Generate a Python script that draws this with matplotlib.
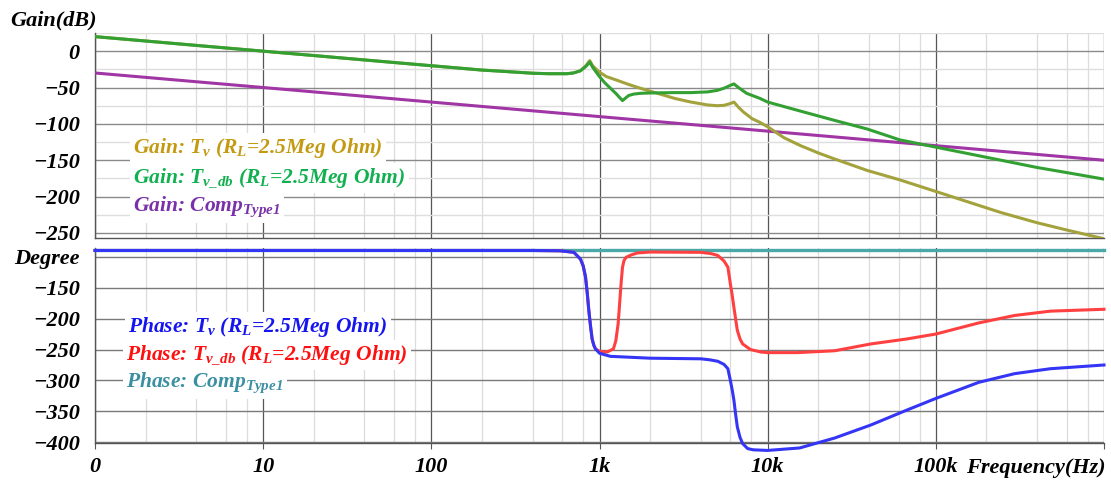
import matplotlib
matplotlib.use('Agg')
import matplotlib.pyplot as plt
from matplotlib.font_manager import FontProperties
from matplotlib.ticker import FixedLocator, NullLocator

# ---------------- data ----------------
freq_tvdb = [1, 2, 5, 10, 20, 50, 100, 150, 200, 257, 300, 405, 500, 640, 700, 770, 830, 875,
             910, 1000, 1080, 1150, 1250, 1320, 1370, 1420, 1490, 1600, 1750, 2000, 2800, 3500,
             4400, 5000, 5500, 6000, 6300, 6700, 7500, 9000, 10000, 15700, 24800, 39000, 61000,
             100000, 244000, 400000, 600000, 1000000]
gain_tvdb = [20, 14, 6, 0, -6, -14, -20, -23.5, -26, -27.5, -28.5, -30.4, -31, -31, -30, -27, -21, -15,
             -22, -35, -44, -50, -58, -64, -68, -65, -61, -59, -58, -57.5, -57, -57,
             -56, -54, -51, -47, -45, -50, -58, -65, -70, -82.5, -95, -107, -122,
             -132, -150, -160, -167, -176]

freq_tv = [1, 2, 5, 10, 20, 50, 100, 150, 200, 257, 300, 405, 500, 640, 700, 770, 830, 875,
           910, 1000, 1100, 1270, 1500, 1750, 2000, 2800, 3500, 4400, 5000, 5500, 6000, 6300,
           6700, 7200, 8100, 9000, 10000, 12500, 15700, 20000, 24800, 39000, 61000, 100000,
           244000, 400000, 600000, 1000000]
gain_tv = [20, 14, 6, 0, -6, -14, -20, -23.5, -26, -27.5, -28.5, -30.4, -31, -31, -30, -27, -20, -13,
           -20, -29, -35, -40, -46, -51, -55, -65, -70, -74, -75, -74.5, -72, -70,
           -77, -84, -93, -98, -104, -119, -130, -140, -148, -164, -177, -193,
           -222, -236, -246, -258]

freq_comp = [1, 10, 100, 1000, 10000, 100000, 1000000]
gain_comp = [-30, -50, -70, -90, -110, -130, -150]

freq_ph_tv = [1, 100, 400, 583, 704, 771, 800, 826, 845, 864, 885, 904, 925, 946, 1000, 1160,
              2000, 4000, 4500, 5050, 5500, 5800, 6000, 6150, 6300, 6450, 6600, 6850, 7100,
              7600, 8200, 10000, 15500, 25000, 41000, 67000, 100000, 180000, 294000, 480000,
              1000000]
phase_tv = [-90, -90, -90, -90.5, -93, -104, -115, -133, -158, -187, -213, -233, -243, -249, -256, -261,
            -264, -265, -266.5, -269, -274, -281, -300, -315, -332, -355, -375, -392, -402,
            -410, -412, -413, -409, -393, -372, -348, -329, -303, -289, -281,
            -275]

freq_ph_tvdb = [1, 100, 400, 583, 704, 771, 800, 826, 845, 864, 885, 904, 925, 946, 1000, 1110,
                1210, 1250, 1290, 1310, 1330, 1350, 1370, 1400, 1440, 1550, 1680, 2000, 4000,
                4600, 5050, 5500, 5800, 6000, 6150, 6300, 6450, 6600, 6850, 7100, 7900, 9100,
                10000, 15000, 25000, 41000, 67000, 100000, 180000, 294000, 480000, 1000000]
phase_tvdb = [-90, -90, -90, -90.5, -93, -104, -115, -133, -158, -187, -213, -233, -243, -249, -253, -254,
              -249, -236, -209, -185, -160, -137, -117, -106, -101, -97, -94, -92.5, -93,
              -95, -98, -107, -117, -144, -162, -182, -201, -219, -233, -241, -250, -254,
              -255, -255, -252, -241, -233, -225, -207, -195, -188, -185]

freq_ph_comp = [1, 1000000]
phase_comp = [-90, -90]

xtick_vals = [1, 10, 100, 1000, 10000, 100000, 1000000]
xtick_labels = ['0', '10', '100', '1k', '10k', '100k', '']
gain_ticks = [0, -50, -100, -150, -200, -250]
gain_minor = [25, -25, -75, -125, -175, -225]
gain_labels = ['0', '\u221250', '\u2212100', '\u2212150', '\u2212200', '\u2212250']
phase_ticks = [-100, -150, -200, -250, -300, -350, -400]
phase_labels = ['Degree', '\u2212150', '\u2212200', '\u2212250', '\u2212300', '\u2212350', '\u2212400']

# ---------------- style ----------------
plt.rcParams['mathtext.fontset'] = 'custom'
plt.rcParams['mathtext.rm'] = 'Liberation Serif:italic:bold'
plt.rcParams['mathtext.it'] = 'Liberation Serif:italic:bold'
plt.rcParams['mathtext.bf'] = 'Liberation Serif:italic:bold'

W, H = 1111, 484
fig = plt.figure(figsize=(W / 100, H / 100), dpi=100)
fig.patch.set_facecolor('white')

def fp(size):
    return FontProperties(family='Liberation Serif', style='italic', weight='bold', size=size)

def px_axes(left, top, right, bottom):
    return fig.add_axes([left / W, 1 - bottom / H, (right - left) / W, (bottom - top) / H])

ax1 = px_axes(95, 33, 1104, 238)
ax2 = px_axes(95, 248, 1104, 443)

minor_x = [k * 10 ** d for d in range(6) for k in (2, 4, 6, 8)]

for ax in (ax1, ax2):
    ax.set_xscale('log')
    ax.set_xlim(1, 1e6)
    ax.xaxis.set_major_locator(FixedLocator(xtick_vals))
    ax.xaxis.set_minor_locator(FixedLocator(minor_x))
    ax.set_xticklabels(xtick_labels)
    ax.grid(which='major', axis='x', color='#555555', lw=0.9, zorder=0)
    ax.grid(which='minor', axis='x', color='#dcdcdc', lw=0.9, zorder=0)
    for s in ('top', 'right'):
        ax.spines[s].set_visible(False)
    for s in ('left', 'bottom'):
        ax.spines[s].set_color('#555555')
        ax.spines[s].set_linewidth(1.0)
    ax.tick_params(axis='y', which='both', length=0, pad=11)
    ax.tick_params(axis='x', which='minor', length=0)
    ax.tick_params(axis='x', which='major', length=4, color='#555555', pad=6)
    ax.set_axisbelow(True)
    ax.set_facecolor('white')

# ---- gain panel ----
ax1.set_ylim(-257, 25)
ax1.yaxis.set_major_locator(FixedLocator(gain_ticks))
ax1.yaxis.set_minor_locator(FixedLocator(gain_minor))
ax1.set_yticklabels(gain_labels)
ax1.grid(which='major', axis='y', color='#8a8a8a', lw=1.0, zorder=0)
ax1.grid(which='minor', axis='y', color='#dedede', lw=1.0, zorder=0)
ax1.tick_params(axis='x', which='major', labelbottom=False, length=0)

ax1.plot(freq_comp, gain_comp, color='#a035a5', lw=2.2, zorder=3)
ax1.plot(freq_tv, gain_tv, color='#a3a23c', lw=2.2, zorder=4)
ax1.plot(freq_tvdb, gain_tvdb, color='#33a033', lw=2.2, zorder=5)

# ---- phase panel ----
ax2.set_ylim(-401, -86)
ax2.yaxis.set_major_locator(FixedLocator(phase_ticks))
ax2.yaxis.set_minor_locator(NullLocator())
ax2.set_yticklabels(phase_labels)
ax2.grid(which='major', axis='y', color='#7a7a7a', lw=1.0, zorder=0)

ax2.plot(freq_ph_comp, phase_comp, color='#4aa8a8', lw=2.4, zorder=3, clip_on=False)
ax2.plot(freq_ph_tvdb, phase_tvdb, color='#ff4040', lw=2.2, zorder=4, clip_on=False)
ax2.plot(freq_ph_tv, phase_tv, color='#3535f5', lw=2.2, zorder=5, clip_on=False)

for ax in (ax1, ax2):
    for lab in ax.get_yticklabels() + ax.get_xticklabels():
        lab.set_fontproperties(fp(16))
        lab.set_color('black')

# ---- texts ----
fig.text(97 / W, 1 - 20 / H, 'Gain(dB)', fontproperties=fp(16), ha='right', va='center')
fig.text(1106 / W, 1 - 468 / H, 'Frequency(Hz)', fontproperties=fp(16), ha='right', va='center')

box = dict(facecolor='white', edgecolor='none', pad=2.5)
legend_items = [
    (133, 148, r'Gain: $T_{v}$ ($R_{L}$=2.5Meg Ohm)', '#c49a12'),
    (133, 178, r'Gain: $T_{v\_db}$ ($R_{L}$=2.5Meg Ohm)', '#12b050'),
    (133, 207, r'Gain: Comp$_{Type1}$', '#7a30a8'),
    (128, 327, r'Phase: $T_{v}$ ($R_{L}$=2.5Meg Ohm)', '#1515f0'),
    (126, 355, r'Phase: $T_{v\_db}$ ($R_{L}$=2.5Meg Ohm)', '#ff1010'),
    (126, 383, r'Phase: Comp$_{Type1}$', '#3a8fa0'),
]
for x, y, s, c in legend_items:
    fig.text(x / W, 1 - y / H, s, fontproperties=fp(15.5), color=c, ha='left', va='center',
             bbox=box)

fig.savefig('out.png', dpi=100, facecolor='white')
